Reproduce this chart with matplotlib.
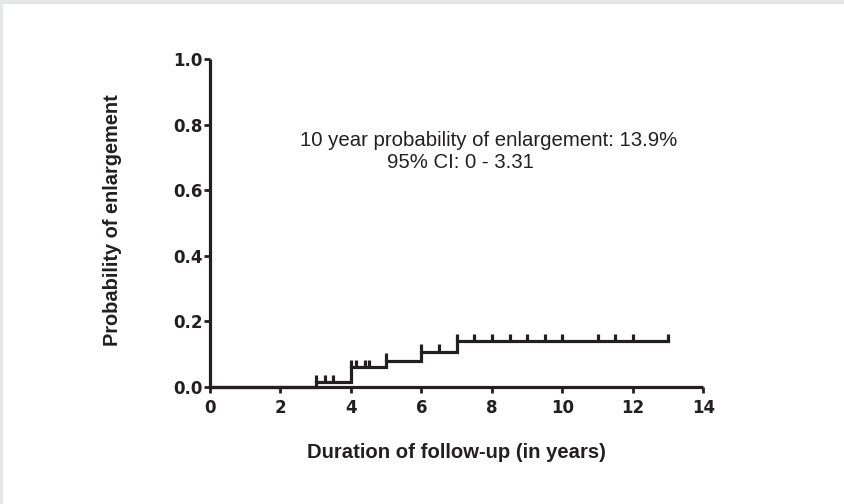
import matplotlib
matplotlib.use("Agg")
import matplotlib.pyplot as plt
from matplotlib.patches import Rectangle

plt.rcParams['font.family'] = ['Liberation Sans', 'DejaVu Sans']

# Kaplan-Meier style cumulative probability of enlargement
step_times = [0, 3, 4, 5, 6, 7, 13]
step_probs = [0.0, 0.015, 0.06, 0.08, 0.107, 0.139, 0.139]
censor_times = [3, 3.25, 3.5, 4, 4.15, 4.4, 4.5, 5, 6, 6.5, 7, 7.5, 8, 8.5,
                9, 9.5, 10, 11, 11.5, 12, 13]
x_ticks = [0, 2, 4, 6, 8, 10, 12, 14]
y_ticks = [0.0, 0.2, 0.4, 0.6, 0.8, 1.0]
annot_line1 = "10 year probability of enlargement: 13.9%"
annot_line2 = "95% CI: 0 - 3.31"

ink = '#231f20'
fig = plt.figure(figsize=(8.45, 5.04), dpi=100)
fig.patches.append(Rectangle((0, 1 - 4/504), 1, 4/504, transform=fig.transFigure,
                             facecolor='#e6e7e9', edgecolor='none'))
fig.patches.append(Rectangle((0, 0), 3/845, 1, transform=fig.transFigure,
                             facecolor='#e6e7e9', edgecolor='none'))

ax = fig.add_axes([210/845, (504-386.7)/504, 493.3/845, 327.4/504])

ax.step(step_times, step_probs, where='post', color=ink, lw=2.3,
        solid_joinstyle='miter', zorder=3)

def prob_at(t):
    v = step_probs[0]
    for st, p in zip(step_times, step_probs):
        if t >= st:
            v = p
    return v

tick_h = 0.022
for t in censor_times:
    p = prob_at(t)
    ax.plot([t, t], [p, p + tick_h], color=ink, lw=2.3, zorder=3,
            solid_capstyle='butt')

ax.set_xlim(0, 14)
ax.set_ylim(0, 1.0)
ax.set_xticks(x_ticks)
ax.set_yticks(y_ticks)
ax.set_xticklabels([str(v) for v in x_ticks])
ax.set_yticklabels([f"{v:.1f}" for v in y_ticks])

for s in ['top', 'right']:
    ax.spines[s].set_visible(False)
for s in ['left', 'bottom']:
    ax.spines[s].set_linewidth(2.3)
    ax.spines[s].set_color(ink)
    ax.spines[s].set_capstyle('butt')

ax.tick_params(axis='both', direction='out', length=4.5, width=2.0, color=ink,
               labelsize=12, labelcolor=ink, pad=1)
ax.tick_params(axis='x', pad=4)
for lab in ax.get_xticklabels() + ax.get_yticklabels():
    lab.set_fontweight('bold')
    lab.set_fontfamily(['DejaVu Sans'])

ax.set_xlabel("Duration of follow-up (in years)", fontsize=14.6, fontweight='bold', color=ink)
ax.set_ylabel("Probability of enlargement", fontsize=14.4, fontweight='bold', color=ink)
ax.xaxis.set_label_coords(0.5, -0.172)
ax.yaxis.set_label_coords(-0.178, 0.509)

ax.text(2.55, 0.753, annot_line1, fontsize=14.7, color=ink, ha='left', va='center')
ax.text(5.02, 0.686, annot_line2, fontsize=14.7, color=ink, ha='left', va='center')

ax.patch.set_alpha(0)
for sp in ax.spines.values():
    sp.set_zorder(4)
for line in ax.lines:
    line.set_clip_on(False)

fig.savefig("out.png", dpi=100)
